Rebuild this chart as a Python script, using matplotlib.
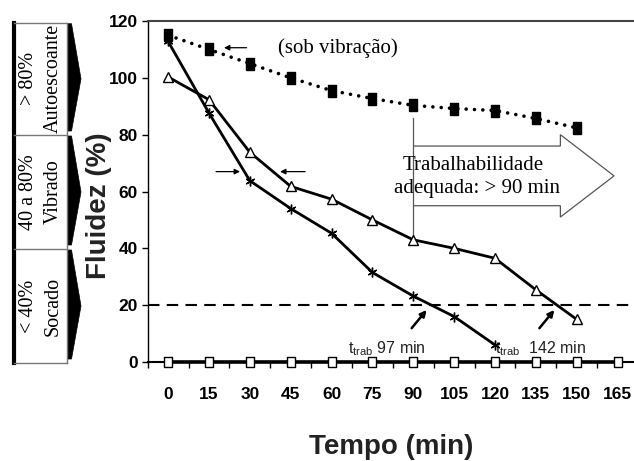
import numpy as np
import matplotlib
matplotlib.use("Agg")
import matplotlib.pyplot as plt
from matplotlib.patches import Polygon

# data
tempo = [0, 15, 30, 45, 60, 75, 90, 105, 120, 135, 150, 165]
tempo_labels = ["0", "15", "30", "45", "60", "75", "90", "105", "120", "135", "150", "165"]
t_vib = [0, 15, 30, 45, 60, 75, 90, 105, 120, 135, 150]
fluidez_vib = [115, 110, 105, 100, 95.5, 92.7, 90.3, 89.2, 88.5, 85.7, 82.4]
t_tri = [0, 15, 30, 45, 60, 75, 90, 105, 120, 135, 150]
fluidez_tri = [100.3, 92.3, 73.8, 61.8, 57.3, 50, 43, 40, 36.5, 25.4, 15]
t_star = [0, 15, 30, 45, 60, 75, 90, 105, 120]
fluidez_star = [112.8, 87.6, 63.8, 54, 45.3, 31.5, 23.2, 16, 6]
fluidez_zero = [0, 0, 0, 0, 0, 0, 0, 0, 0, 0, 0, 0]
limite = 20
yticks = [0, 20, 40, 60, 80, 100, 120]

faixas = [("> 80%", "Autoescoante"), ("40 a 80%", "Vibrado"), ("< 40%", "Socado")]

serif = ["Liberation Serif", "DejaVu Serif"]
sans = ["Liberation Sans", "DejaVu Sans"]
narrow = ["Liberation Sans Narrow", "Liberation Sans", "DejaVu Sans"]

fig = plt.figure(figsize=(6.34, 4.61), dpi=100)
ax = fig.add_axes([147.7 / 634, 99 / 461, 490.3 / 634, 341 / 461])

rect = [(-0.35, -0.5), (0.35, -0.5), (0.35, 0.5), (-0.35, 0.5), (-0.35, -0.5)]

ax.plot(t_vib, fluidez_vib, color="k", lw=2.6, ls=(0, (0.01, 2.3)),
        dash_capstyle="round", marker=rect, ms=8, mfc="k", mec="k", zorder=4)
ax.plot(t_tri, fluidez_tri, color="k", lw=2, marker="^", ms=7.5,
        mfc="white", mec="k", mew=1, zorder=4)
ax.plot(t_star, fluidez_star, color="k", lw=2, marker=(6, 2, 0), ms=7,
        mec="k", mew=1, zorder=4)
ax.plot(tempo, fluidez_zero, color="k", lw=2.6, marker=rect, ms=7.5,
        mfc="white", mec="k", mew=1, zorder=4, clip_on=False)
ax.axhline(limite, color="k", lw=1.5, dashes=(5.5, 3.5), zorder=2)

ax.set_xlim(-7.5, 172.5)
ax.set_ylim(0, 120)
ax.spines["right"].set_visible(False)
ax.spines["top"].set_color("#444444")
ax.spines["top"].set_linewidth(1.5)
ax.spines["left"].set_linewidth(1)
ax.spines["bottom"].set_linewidth(1.5)

bounds = [t - 7.5 for t in tempo] + [tempo[-1] + 7.5]
ax.set_xticks(bounds, [""] * len(bounds))
ax.set_xticks(tempo, tempo_labels, minor=True)
ax.tick_params(axis="x", which="major", direction="out", length=4, width=1)
ax.tick_params(axis="x", which="minor", length=0, pad=18)
ax.set_yticks(yticks)
ax.tick_params(axis="y", direction="out", length=4, width=1, pad=3)
for lab in ax.get_xticklabels(minor=True) + ax.get_yticklabels():
    lab.set_fontfamily(narrow)
    lab.set_fontweight("bold")
    lab.set_fontsize(12.5)

# annotations
ax.text(40.5, 110.6, "(sob vibra\u00e7\u00e3o)", family=serif, fontsize=15,
        va="center", ha="left")
arr = dict(arrowstyle="-|>", color="k", lw=0.9, mutation_scale=8, shrinkA=0, shrinkB=0)
ax.annotate("", xy=(20.5, 110.6), xytext=(28.8, 110.6), arrowprops=arr)
ax.annotate("", xy=(26.4, 67), xytext=(17.6, 67), arrowprops=arr)
ax.annotate("", xy=(41.1, 67), xytext=(50.3, 67), arrowprops=arr)
arr2 = dict(arrowstyle="-|>", color="k", lw=1.8, mutation_scale=9, shrinkA=0, shrinkB=0)
ax.annotate("", xy=(94.9, 18.3), xytext=(89.4, 11.9), arrowprops=arr2)
ax.annotate("", xy=(141.8, 18.3), xytext=(136.3, 11.9), arrowprops=arr2)
ax.text(66.1, 3.2, r"$\mathregular{t_{trab}}$ 97 min", family=sans, fontsize=11.5,
        va="baseline", ha="left", color="#222222")
ax.text(120.0, 3.2, r"$\mathregular{t_{trab}}$  142 min", family=sans, fontsize=11.5,
        va="baseline", ha="left", color="#222222")

# big hollow arrow
seta = [(90, 76), (144, 76), (144, 80), (163.7, 65.5), (144, 51), (144, 55), (90, 55)]
ax.add_patch(Polygon(seta, closed=False, fill=False, ec="#555555", lw=0.9, zorder=3))
ax.plot([90, 90], [44.5, 86], color="#555555", lw=0.9, zorder=3)
ax.text(112, 69.3, "Trabalhabilidade", family=serif, fontsize=15, ha="center", va="center")
ax.text(113.3, 61.2, "adequada: > 90 min", family=serif, fontsize=15, ha="center", va="center")

# axis titles
fig.text(391 / 634, (461 - 446.7) / 461, "Tempo (min)", family=sans, fontweight="bold",
         fontsize=20, ha="center", va="center", color="#222222")
fig.text(99 / 634, (461 - 206) / 461, "Fluidez (%)", family=sans, fontweight="bold",
         fontsize=20, ha="center", va="center", rotation=90, color="#222222")

# left panel, drawn in pixel coordinates
pn = fig.add_axes([0, 0, 1, 1], zorder=-1)
pn.set_xlim(0, 634)
pn.set_ylim(461, 0)
pn.axis("off")
edges = [22.7, 135, 249, 363]
pn.plot([13.5, 13.5], [edges[0], edges[-1]], color="k", lw=3)
pn.plot([67, 67], [edges[0], edges[-1]], color="#777777", lw=1)
for e in edges:
    pn.plot([13.5, 67], [e, e], color="#777777", lw=1)
for i, (faixa, nome) in enumerate(faixas):
    top, bot = edges[i], edges[i + 1]
    mid = (top + bot) / 2
    pn.add_patch(Polygon([(68, top + 1), (71.5, top + 1), (81, mid), (71.5, bot - 4), (68, bot - 4)],
                         closed=True, fc="k", ec="k", lw=0.5))
    pn.text(41, mid, faixa + "\n" + nome, family=serif, fontsize=14.5, rotation=90,
            ha="center", va="center", multialignment="center", linespacing=1.4)

fig.savefig("out.png", dpi=100)
